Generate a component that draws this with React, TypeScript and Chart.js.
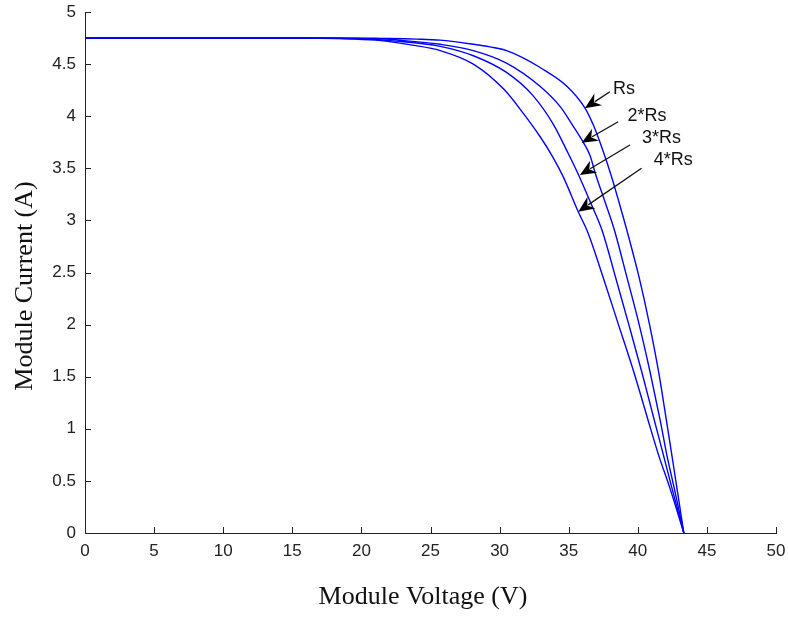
import React, { useEffect, useRef } from "react";
import { Chart, registerables } from "chart.js";

Chart.register(...registerables);

// Module voltage (V) / current (A) pairs
const rsVoltage = [0, 15, 22, 24, 25.7, 28.1, 29.3, 30.5, 31.7, 32.9, 34.85, 36.17, 36.8, 37.45, 38.05, 38.65, 39.2, 40.1, 40.85, 41.5, 42.07, 42.52, 42.82, 43.33];
const rsCurrent = [4.75, 4.75, 4.745, 4.74, 4.73, 4.69, 4.665, 4.63, 4.56, 4.47, 4.29, 4.08, 3.91, 3.68, 3.44, 3.17, 2.91, 2.45, 2.0, 1.55, 1.08, 0.7, 0.44, 0];

const rs2Voltage = [0, 15, 21, 23.5, 25.7, 28.1, 30.5, 32.9, 34.4, 35.3, 36.1, 36.55, 36.95, 37.65, 38.3, 39.2, 40.1, 40.88, 41.62, 42.1, 42.62, 43.33];
const rs2Current = [4.75, 4.75, 4.745, 4.72, 4.69, 4.63, 4.51, 4.29, 4.09, 3.91, 3.74, 3.62, 3.44, 3.17, 2.91, 2.46, 2.0, 1.55, 1.08, 0.75, 0.44, 0];

const rs3Voltage = [0, 15, 19.5, 22.5, 25.7, 28.1, 30.5, 32.4, 33.9, 34.9, 35.7, 36.55, 37.4, 38.4, 39.35, 40.28, 41.2, 41.85, 42.45, 43.33];
const rs3Current = [4.75, 4.75, 4.745, 4.72, 4.67, 4.58, 4.42, 4.2, 3.92, 3.66, 3.44, 3.18, 2.91, 2.45, 2.0, 1.55, 1.08, 0.75, 0.44, 0];

const rs4Voltage = [0, 15, 18.5, 21, 23.8, 25.7, 28.1, 30.3, 31.7, 32.9, 33.8, 34.6, 35.7, 36.4, 37.5, 38.6, 39.7, 40.75, 41.5, 42.3, 43.33];
const rs4Current = [4.75, 4.75, 4.745, 4.73, 4.68, 4.63, 4.5, 4.26, 4.03, 3.81, 3.62, 3.42, 3.08, 2.88, 2.45, 2.0, 1.55, 1.08, 0.75, 0.44, 0];

// Tick values
const xTickValues = [0, 5, 10, 15, 20, 25, 30, 35, 40, 45, 50];
const yTickValues = [0, 0.5, 1, 1.5, 2, 2.5, 3, 3.5, 4, 4.5, 5];

// Annotation labels and arrows (data units)
const annotationLabels = ["Rs", "2*Rs", "3*Rs", "4*Rs"];
const arrowTipV = [36.17, 35.94, 35.81, 35.69];
const arrowTipI = [4.076, 3.746, 3.436, 3.084];
const arrowTailV = [37.98, 38.58, 39.43, 40.27];
const arrowTailI = [4.235, 3.947, 3.724, 3.5];
const labelV = [39.0, 40.66, 41.72, 42.57];
const labelI = [4.26, 4.0, 3.79, 3.58];

const xTitle = "Module Voltage (V)";
const yTitle = "Module Current (A)";

const toPoints = (vs: number[], is: number[]) => vs.map((v, k) => ({ x: v, y: is[k] }));

const sansFont = "'Liberation Sans', Arial, Helvetica, sans-serif";
const serifFont = "'Liberation Serif', 'Times New Roman', Times, serif";

const decorPlugin = {
  id: "decor",
  afterDraw(chart: any) {
    const ctx = chart.ctx;
    const xs = chart.scales.x;
    const ys = chart.scales.y;
    const area = chart.chartArea;
    ctx.save();
    // inward tick marks
    ctx.strokeStyle = "#222";
    ctx.lineWidth = 1;
    ctx.beginPath();
    xTickValues.forEach((v) => {
      const px = Math.round(xs.getPixelForValue(v)) + 0.5;
      ctx.moveTo(px, area.bottom);
      ctx.lineTo(px, area.bottom - 6);
    });
    yTickValues.forEach((v) => {
      const py = Math.round(ys.getPixelForValue(v)) + 0.5;
      ctx.moveTo(area.left, py);
      ctx.lineTo(area.left + 6, py);
    });
    ctx.stroke();

    // arrows
    ctx.strokeStyle = "#111";
    ctx.fillStyle = "#000";
    ctx.lineWidth = 1.3;
    annotationLabels.forEach((lab, k) => {
      const tx = xs.getPixelForValue(arrowTipV[k]);
      const ty = ys.getPixelForValue(arrowTipI[k]);
      const sx = xs.getPixelForValue(arrowTailV[k]);
      const sy = ys.getPixelForValue(arrowTailI[k]);
      const ang = Math.atan2(ty - sy, tx - sx);
      const len = 16;
      const half = 7;
      const bx = tx - len * Math.cos(ang);
      const by = ty - len * Math.sin(ang);
      ctx.beginPath();
      ctx.moveTo(sx, sy);
      ctx.lineTo(bx + 4 * Math.cos(ang), by + 4 * Math.sin(ang));
      ctx.stroke();
      const nx = -Math.sin(ang);
      const ny = Math.cos(ang);
      const notchX = tx - (len - 5) * Math.cos(ang);
      const notchY = ty - (len - 5) * Math.sin(ang);
      ctx.beginPath();
      ctx.moveTo(tx, ty);
      ctx.lineTo(bx + nx * half, by + ny * half);
      ctx.lineTo(notchX, notchY);
      ctx.lineTo(bx - nx * half, by - ny * half);
      ctx.closePath();
      ctx.fill();

      ctx.font = "18px " + sansFont;
      ctx.fillStyle = "#111";
      ctx.textAlign = "center";
      ctx.textBaseline = "middle";
      ctx.fillText(lab, xs.getPixelForValue(labelV[k]), ys.getPixelForValue(labelI[k]));
      ctx.fillStyle = "#000";
    });

    // axis titles
    ctx.fillStyle = "#111";
    ctx.font = "26px " + serifFont;
    ctx.textAlign = "center";
    ctx.textBaseline = "middle";
    ctx.fillText(xTitle, 423, 597);
    ctx.translate(25, 286);
    ctx.rotate(-Math.PI / 2);
    ctx.fillText(yTitle, 0, 0);
    ctx.restore();
  },
};

export default function App() {
  const canvasRef = useRef<HTMLCanvasElement | null>(null);

  useEffect(() => {
    const canvas = canvasRef.current;
    if (!canvas) return;
    const mk = (vs: number[], is: number[]) => ({
      data: toPoints(vs, is),
      borderColor: "#0000ff",
      borderWidth: 1.4,
      pointRadius: 0,
      fill: false,
      cubicInterpolationMode: "monotone" as const,
    });
    const chart = new Chart(canvas, {
      type: "line",
      data: {
        datasets: [
          mk(rsVoltage, rsCurrent),
          mk(rs2Voltage, rs2Current),
          mk(rs3Voltage, rs3Current),
          mk(rs4Voltage, rs4Current),
        ],
      },
      options: {
        animation: false,
        responsive: false,
        maintainAspectRatio: false,
        devicePixelRatio: 1,
        layout: { padding: { top: 12, right: 12, left: 0, bottom: 0 } },
        plugins: { legend: { display: false }, tooltip: { enabled: false } },
        scales: {
          x: {
            type: "linear",
            min: 0,
            max: 50,
            afterFit: (s: any) => {
              s.height = 90;
              s.paddingLeft = 0;
              s.paddingRight = 0;
            },
            afterBuildTicks: (s: any) => {
              s.ticks = xTickValues.map((v) => ({ value: v }));
            },
            grid: { display: true, drawOnChartArea: false, drawTicks: false },
            border: { display: true, color: "#222", width: 1 },
            ticks: {
              padding: 8,
              color: "#222",
              font: { family: sansFont, size: 17 },
              maxRotation: 0,
            },
          },
          y: {
            type: "linear",
            min: 0,
            max: 5,
            afterFit: (s: any) => {
              s.width = 85;
              s.paddingTop = 0;
              s.paddingBottom = 0;
            },
            afterBuildTicks: (s: any) => {
              s.ticks = yTickValues.map((v) => ({ value: v }));
            },
            grid: { display: true, drawOnChartArea: false, drawTicks: false },
            border: { display: true, color: "#222", width: 1 },
            ticks: {
              padding: 9,
              color: "#222",
              font: { family: sansFont, size: 17 },
              callback: (v: any) => String(v),
            },
          },
        },
      },
      plugins: [decorPlugin],
    });
    return () => chart.destroy();
  }, []);

  return (
    <div style={{ position: "absolute", left: 0, top: 0, width: 788, height: 623, background: "#fff" }}>
      <canvas ref={canvasRef} width={788} height={623} style={{ display: "block", width: 788, height: 623 }} />
    </div>
  );
}
